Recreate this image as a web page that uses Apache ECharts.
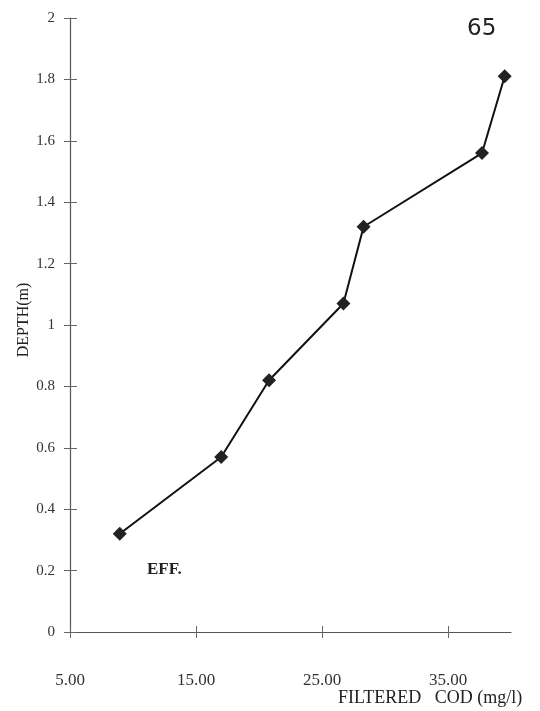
<!DOCTYPE html>
<html><head><meta charset="utf-8">
<script src="https://cdn.jsdelivr.net/npm/echarts@6/dist/echarts.min.js"></script>
<style>html,body{margin:0;padding:0;background:#fff}#c{width:540px;height:711px}</style>
</head><body><div id="c"></div>
<script>
const codValues = [8.95, 17.0, 20.8, 26.7, 28.3, 37.7, 39.5];
const depthValues = [0.32, 0.57, 0.82, 1.07, 1.32, 1.56, 1.81];
const xTickLabels = [5, 15, 25, 35];
const yTickLabels = [0, 0.2, 0.4, 0.6, 0.8, 1, 1.2, 1.4, 1.6, 1.8, 2];

const serif = '"Liberation Serif", "DejaVu Serif", serif';
const chart = echarts.init(document.getElementById('c'));
const yBase = {type:'value', min:0, max:2, interval:0.2, splitLine:{show:false}, position:'left'};
const xBase = {type:'value', min:5, max:40, splitLine:{show:false}, position:'bottom'};
chart.setOption({
  animation:false,
  backgroundColor:'#fff',
  grid:{left:70, right:29, top:18, bottom:79},
  xAxis:[
    Object.assign({}, xBase, {
      axisLine:{lineStyle:{color:'#555', width:1.2}},
      axisTick:{customValues:xTickLabels, length:6, lineStyle:{color:'#666'}},
      axisLabel:{customValues:xTickLabels, formatter:v=>v.toFixed(2), fontFamily:serif, fontSize:17, color:'#333', margin:40}
    }),
    Object.assign({}, xBase, {
      axisLine:{show:false},
      axisTick:{customValues:xTickLabels, inside:true, length:6, lineStyle:{color:'#666'}},
      axisLabel:{show:false}
    })
  ],
  yAxis:[
    Object.assign({}, yBase, {
      axisLine:{show:true, lineStyle:{color:'#555', width:1.2}},
      axisTick:{show:true, length:6, lineStyle:{color:'#666'}},
      axisLabel:{customValues:yTickLabels, formatter:v=>String(+v.toFixed(1)), fontFamily:serif, fontSize:15, color:'#333', margin:15}
    }),
    Object.assign({}, yBase, {
      axisLine:{show:false},
      axisTick:{show:true, inside:true, length:7, lineStyle:{color:'#666'}},
      axisLabel:{show:false}
    })
  ],
  series:[{
    type:'line',
    xAxisIndex:0, yAxisIndex:0,
    data:codValues.map((v,i)=>[v, depthValues[i]]),
    symbol:'diamond', symbolSize:14,
    lineStyle:{color:'#111', width:2},
    itemStyle:{color:'#222'}
  }],
  graphic:[
    {type:'text', left:467, top:18, style:{text:'65', font:'23px "DejaVu Sans", sans-serif', fill:'#222'}},
    {type:'text', left:147, top:561, style:{text:'EFF.', font:'bold 17px "Liberation Serif", serif', fill:'#222'}},
    {type:'text', left:338, top:689, style:{text:'FILTERED   COD (mg/l)', font:'18px "Liberation Serif", serif', fill:'#222'}},
    {type:'text', x:24, y:320, rotation:Math.PI/2, style:{text:'DEPTH(m)', font:'16px "Liberation Serif", serif', fill:'#222', align:'center', verticalAlign:'middle'}}
  ]
});
</script></body></html>
